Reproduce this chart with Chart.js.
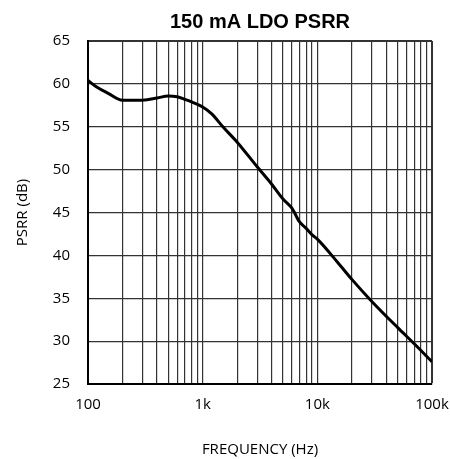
<!DOCTYPE html>
<html><head><meta charset="utf-8">
<script src="https://cdn.jsdelivr.net/npm/chart.js@4"></script>
<style>html,body{margin:0;padding:0;background:#fff}</style>
</head><body>
<canvas id="c" width="450" height="459" style="width:450px;height:459px;display:block"></canvas>
<script>
const frequencies = [100, 120, 150, 200, 300, 400, 500, 600, 700, 800, 1000, 1200, 1500, 2000, 3000, 4000, 5000, 6000, 7000, 8000, 9000, 10000, 15000, 20000, 30000, 50000, 70000, 100000];
const psrrValues  = [60.4, 59.6, 58.9, 58.1, 58.1, 58.35, 58.6, 58.5, 58.2, 57.9, 57.3, 56.5, 55.0, 53.2, 50.3, 48.3, 46.6, 45.5, 43.9, 43.15, 42.4, 41.9, 39.2, 37.2, 34.6, 31.6, 29.7, 27.6];
const xDecadeTicks = [100, 1000, 10000, 100000];
const xTickLabels = ['100', '1k', '10k', '100k'];
const xMultipliers = [1, 2, 3, 4, 5, 6, 7, 8, 9];
const yMin = 25, yMax = 65, yStep = 5;
const titleText = '150 mA LDO PSRR';
const xTitleText = 'FREQUENCY (Hz)';
const yTitleText = 'PSRR (dB)';

const tickFont = {family: 'Open Sans', size: 15};
const axisTitleFont = {family: 'Open Sans', size: 15};

new Chart(document.getElementById('c'), {
  type: 'line',
  data: {
    datasets: [{
      data: frequencies.map((f, i) => ({x: f, y: psrrValues[i]})),
      borderColor: '#000',
      borderWidth: 3,
      pointRadius: 0,
      cubicInterpolationMode: 'monotone',
      fill: false
    }]
  },
  options: {
    responsive: false,
    animation: false,
    devicePixelRatio: 1,
    layout: {padding: {left: 0, right: 18, top: 0, bottom: 0}},
    plugins: {
      legend: {display: false},
      tooltip: {enabled: false},
      title: {
        display: true,
        text: titleText,
        fullSize: false,
        color: '#000',
        font: {family: 'Liberation Sans', weight: 'bold', size: 20},
        padding: {top: 10, bottom: 7}
      }
    },
    scales: {
      x: {
        type: 'logarithmic',
        min: xDecadeTicks[0],
        max: xDecadeTicks[xDecadeTicks.length - 1],
        afterBuildTicks: (scale) => {
          const t = [];
          for (let d = 0; d < xDecadeTicks.length - 1; d++) {
            xMultipliers.forEach(m => t.push({value: m * xDecadeTicks[d]}));
          }
          t.push({value: xDecadeTicks[xDecadeTicks.length - 1]});
          scale.ticks = t;
        },
        afterFit: (scale) => { scale.height = 75; scale.paddingLeft = 0; scale.paddingRight = 0; },
        ticks: {
          autoSkip: false,
          maxRotation: 0,
          padding: 12,
          color: '#000',
          font: tickFont,
          callback: (v) => {
            const i = xDecadeTicks.indexOf(v);
            return i >= 0 ? xTickLabels[i] : '';
          }
        },
        grid: {
          color: '#333',
          lineWidth: (ctx) => (ctx.tick && ctx.tick.value === xDecadeTicks[xDecadeTicks.length - 1]) ? 2 : 1.2,
          drawTicks: false
        },
        border: {display: true, color: '#000', width: 2},
        title: {display: true, text: xTitleText, color: '#000', font: axisTitleFont, padding: {top: 0, bottom: 0}}
      },
      y: {
        min: yMin,
        max: yMax,
        afterFit: (scale) => { scale.width = 88; scale.paddingTop = 0; scale.paddingBottom = 0; },
        ticks: {stepSize: yStep, padding: 18, color: '#000', font: tickFont},
        grid: {
          color: '#333',
          lineWidth: (ctx) => (ctx.tick && ctx.tick.value === yMax) ? 2 : 1.2,
          drawTicks: false
        },
        border: {display: true, color: '#000', width: 2},
        title: {display: true, text: yTitleText, color: '#000', font: axisTitleFont, padding: {top: 14, bottom: 0}}
      }
    }
  }
});
</script>
</body></html>
